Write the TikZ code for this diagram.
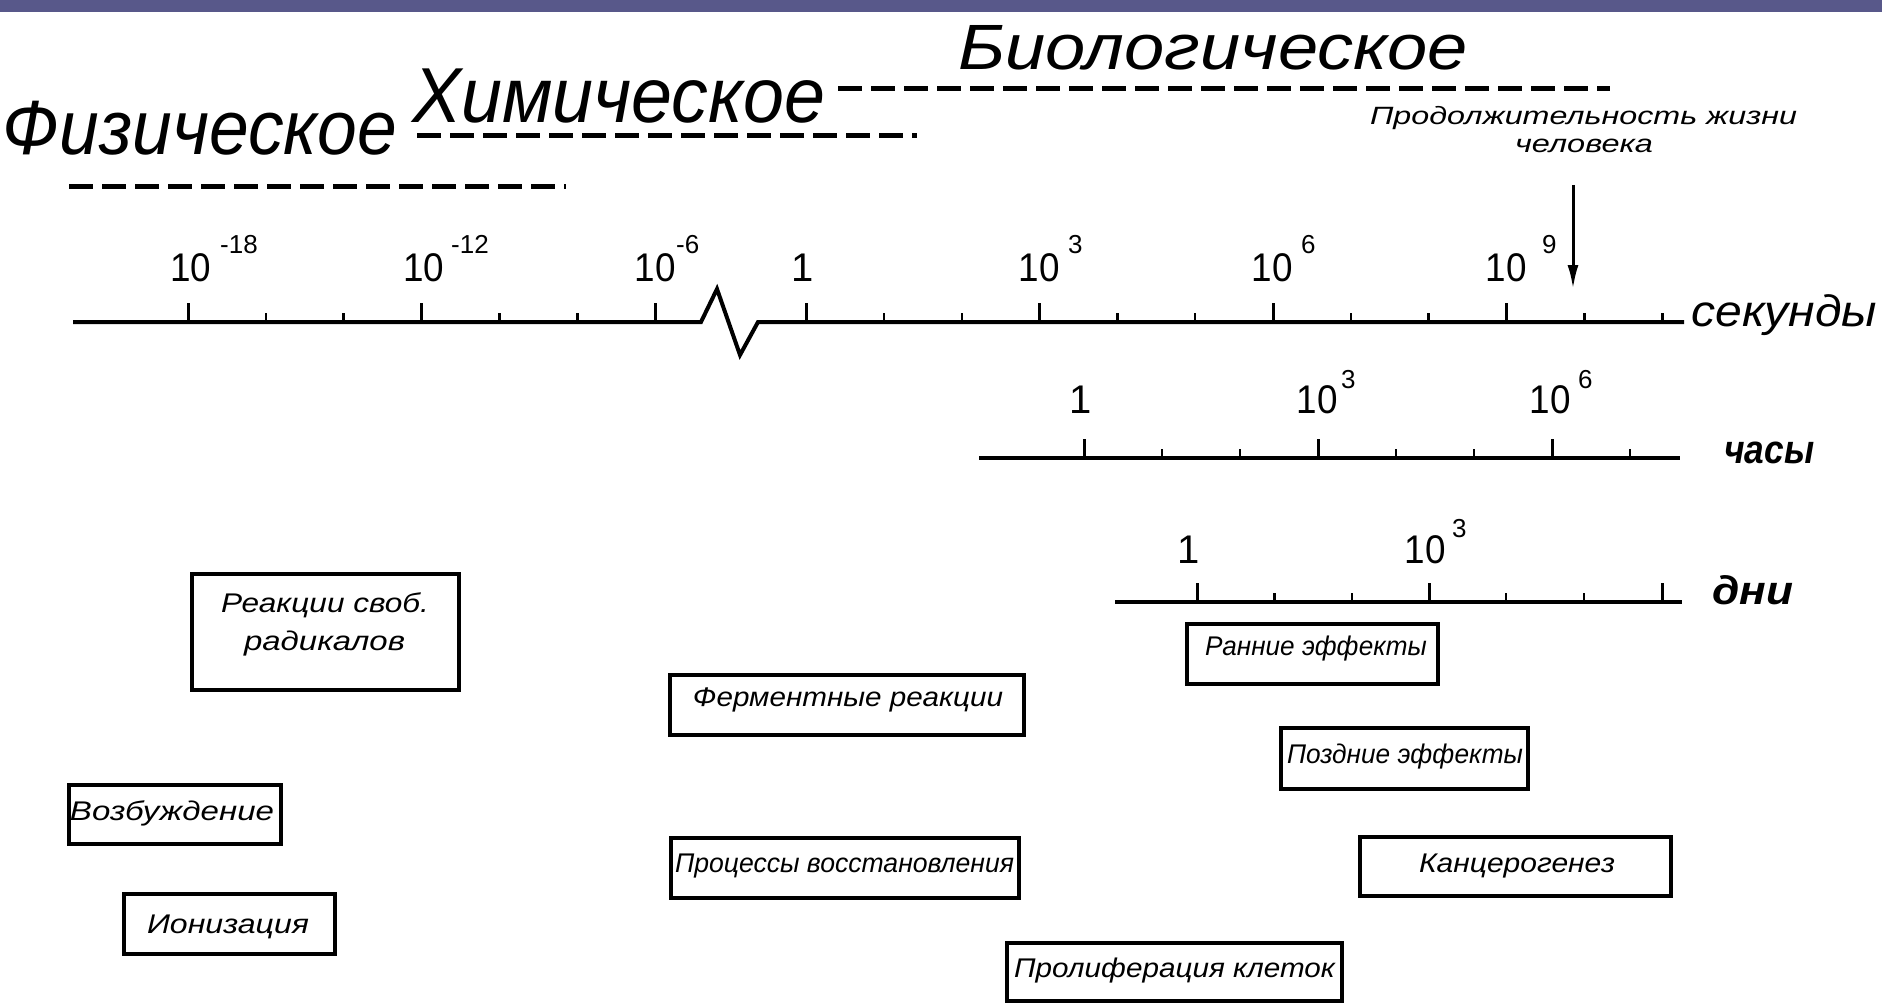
\documentclass[tikz,border=0pt]{standalone}
\usepackage{fontspec}
\setmainfont{Liberation Sans}
\usetikzlibrary{arrows.meta}
\definecolor{banner}{RGB}{88,88,138}
\newcommand{\fitw}[2]{\resizebox{#1pt}{\height}{#2}}
\newcommand{\tenfit}{\fitw{41}{10}}
\begin{document}
\begin{tikzpicture}[x=1pt,y=-1pt,
  axisline/.style={line width=4pt, line join=miter},
  majortick/.style={line width=3pt},
  minortick/.style={line width=2.5pt},
  phase/.style={line width=5pt, dash pattern=on 24pt off 9pt},
  boxframe/.style={draw, line width=4pt, inner sep=0pt},
  lbl/.style={inner sep=0pt, anchor=base, font=\fontsize{27}{30}\selectfont\itshape},
  bigA/.style={inner sep=0pt, anchor=base, font=\fontsize{77}{80}\selectfont\itshape},
  num/.style={inner sep=0pt, anchor=base, font=\fontsize{40}{44}\selectfont},
  supnum/.style={inner sep=0pt, anchor=base west, font=\fontsize{26}{28}\selectfont},
  unitlbl/.style={inner sep=0pt, anchor=base west, font=\fontsize{44}{48}\selectfont\itshape},
  unitbold/.style={inner sep=0pt, anchor=base west, font=\fontsize{40}{44}\selectfont\bfseries\itshape}
]
\useasboundingbox (0,0) rectangle (1882,1003);
\clip (0,0) rectangle (1882,1003);
\fill[white] (0,0) rectangle (1882,1003);
\fill[banner] (0,0) rectangle (1882,12);

% phase labels
\node[bigA] (phys) at (200,155) {\fitw{394}{Физическое}};
\node[bigA, font=\fontsize{78}{80}\selectfont\itshape] (chem) at (618.5,123) {\fitw{413}{Химическое}};
\node[bigA, font=\fontsize{64}{68}\selectfont\itshape] (bio) at (1213,70) {\fitw{510}{Биологическое}};

% phase dashed lines
\coordinate (physA) at (69,187);   \coordinate (physB) at (566,187);
\coordinate (chemA) at (417,136);  \coordinate (chemB) at (917,136);
\coordinate (bioA) at (838,89);    \coordinate (bioB) at (1610,89);
\draw[phase] (physA) -- (physB);
\draw[phase] (chemA) -- (chemB);
\draw[phase] (bioA) -- (bioB);

% life span
\node[lbl, font=\fontsize{25}{28}\selectfont\itshape] (life1) at (1583.5,125) {\fitw{427}{Продолжительность жизни}};
\node[lbl, font=\fontsize{25}{28}\selectfont\itshape] (life2) at (1584,153) {\fitw{138}{человека}};
\coordinate (lifetop) at (1573,185);
\coordinate (lifetip) at (1573,289);
\draw[line width=3pt, -{Latex[length=24pt,width=11pt]}] (lifetop) -- (lifetip);

% seconds axis
\coordinate (sA) at (73,322);
\coordinate (sB) at (701,322);
\coordinate (sZ1) at (717,289);
\coordinate (sZ2) at (740,355);
\coordinate (sC) at (758,322);
\coordinate (sD) at (1684,322);
\draw[axisline] (sA) -- (sB) -- (sZ1) -- (sZ2) -- (sC) -- (sD);
\foreach \x in {188,421.5,655,806,1039.5,1273,1506.5}
  \draw[majortick] (\x,322) -- (\x,303);
\foreach \x in {266,343.5,499.5,577.5,884,962,1117.5,1195,1351,1428.5,1584.5,1662.5}
  \draw[minortick] (\x,322) -- (\x,313);
\node[num] (sl1) at (191,281) {\tenfit};
\node[supnum] (ss1) at (220,254) {-18};
\node[num] (sl2) at (424,281) {\tenfit};
\node[supnum] (ss2) at (451,254) {-12};
\node[num] (sl3) at (655,281) {\tenfit};
\node[supnum] (ss3) at (676,254) {-6};
\node[num] (sl4) at (803,281) {1};
\node[num] (sl5) at (1039,281) {\tenfit};
\node[supnum] (ss5) at (1068,254) {3};
\node[num] (sl6) at (1272,281) {\tenfit};
\node[supnum] (ss6) at (1301,254) {6};
\node[num] (sl7) at (1506,281) {\tenfit};
\node[supnum] (ss7) at (1542,254) {9};
\node[unitlbl] (usec) at (1691,326) {\fitw{186}{секунды}};

% hours axis
\coordinate (hA) at (979,458);
\coordinate (hB) at (1680,458);
\draw[axisline] (hA) -- (hB);
\foreach \x in {1084,1318,1552}
  \draw[majortick] (\x,458) -- (\x,439);
\foreach \x in {1162,1240,1396,1474,1630}
  \draw[minortick] (\x,458) -- (\x,449);
\node[num] (hl1) at (1081,413) {1};
\node[num] (hl2) at (1317,413) {\tenfit};
\node[supnum] (hs2) at (1341,388) {3};
\node[num] (hl3) at (1550,413) {\tenfit};
\node[supnum] (hs3) at (1578,388) {6};
\node[unitbold] (uhour) at (1724,463) {\fitw{90}{часы}};

% days axis
\coordinate (dA) at (1115,602);
\coordinate (dB) at (1682,602);
\draw[axisline] (dA) -- (dB);
\foreach \x in {1197,1429,1662}
  \draw[majortick] (\x,602) -- (\x,583);
\foreach \x in {1274.5,1352,1506,1584}
  \draw[minortick] (\x,602) -- (\x,593);
\node[num] (dl1) at (1189,563) {1};
\node[num] (dl2) at (1425,563) {\tenfit};
\node[supnum] (ds2) at (1452,537) {3};
\node[unitbold] (uday) at (1712,604) {\fitw{81}{дни}};

% process boxes
\node[boxframe, minimum width=267pt, minimum height=116pt] (bRad) at (325.5,632) {};
\node[lbl] (tRad1) at (325,612) {\fitw{208}{Реакции своб.}};
\node[lbl] (tRad2) at (324.5,650) {\fitw{161}{радикалов}};

\node[boxframe, minimum width=354pt, minimum height=60pt] (bFerm) at (847,705) {};
\node[lbl] (tFerm) at (848,706) {\fitw{310}{Ферментные реакции}};

\node[boxframe, minimum width=212pt, minimum height=59pt] (bExc) at (175,814.5) {};
\node[lbl] (tExc) at (172,820) {\fitw{204}{Возбуждение}};

\node[boxframe, minimum width=211pt, minimum height=60pt] (bIon) at (229.5,924) {};
\node[lbl] (tIon) at (228,933) {\fitw{162}{Ионизация}};

\node[boxframe, minimum width=348pt, minimum height=60pt] (bRep) at (845,868) {};
\node[lbl] (tRep) at (844.5,872) {\fitw{339}{Процессы восстановления}};

\node[boxframe, minimum width=335pt, minimum height=58pt] (bProl) at (1174.5,972) {};
\node[lbl] (tProl) at (1174.5,977) {\fitw{321}{Пролиферация клеток}};

\node[boxframe, minimum width=251pt, minimum height=60pt] (bEarly) at (1312.5,654) {};
\node[lbl] (tEarly) at (1316,655) {\fitw{222}{Ранние эффекты}};

\node[boxframe, minimum width=247pt, minimum height=61pt] (bLate) at (1404.5,758.5) {};
\node[lbl] (tLate) at (1405,763) {\fitw{236}{Поздние эффекты}};

\node[boxframe, minimum width=311pt, minimum height=59pt] (bCanc) at (1515.5,866.5) {};
\node[lbl] (tCanc) at (1517,872) {\fitw{196}{Канцерогенез}};
\end{tikzpicture}
\end{document}
